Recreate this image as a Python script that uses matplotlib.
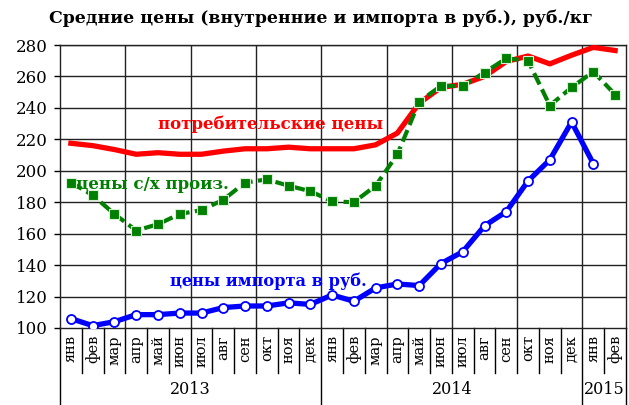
import numpy as np
import matplotlib
matplotlib.use("Agg")
import matplotlib.pyplot as plt

plt.rcParams['font.family'] = ['DejaVu Serif']

# months / years
months = ["янв", "фев", "мар", "апр", "май", "июн", "июл", "авг", "сен", "окт", "ноя", "дек"] * 2 + ["янв", "фев"]
years = ["2013", "2014", "2015"]

# consumer prices
consumer = [217.5, 216, 213.5, 210.5, 211.5, 210.5, 210.5, 212.5, 214, 214, 215, 214,
            214, 214, 216.5, 224, 243, 253, 255, 260, 269.5, 273, 268, 273.5, 278.5, 276.5]
# agricultural producer prices
producer = [192.5, 184.5, 172.5, 162, 166, 172.5, 175, 181.5, 192.5, 194.5, 190.5, 187,
            180.5, 180, 190.5, 210.5, 244, 254, 254, 262.5, 271.5, 270, 241.5, 253, 263, 248.5]
# import prices in rubles (no value for feb 2015)
imports = [106, 101.5, 104, 108.5, 108.5, 109.5, 109.5, 113, 114, 114, 116, 115,
           121, 117, 125.5, 128, 127, 141, 148.5, 165, 174, 193.5, 207, 231, 204.5, np.nan]

x = np.arange(len(months))

fig = plt.figure(figsize=(6.29, 4.05), dpi=100)
ax = fig.add_axes([60 / 629, 1 - 328 / 405, 566 / 629, 283 / 405])

ax.set_xlim(-0.5, len(months) - 0.5)
ax.set_ylim(100, 280)
ax.set_yticks(range(100, 281, 20))
ax.tick_params(axis='y', labelsize=12, length=4, width=1, color='black', pad=5)
ax.set_xticks([])

# grid
for v in range(120, 281, 20):
    ax.axhline(v, color='#222222', lw=1.0, zorder=1)
for k in range(1, 9):
    ax.axvline(3 * k - 0.5, color='#222222', lw=1.0, zorder=1)
for s in ax.spines.values():
    s.set_color('#222222')
    s.set_linewidth(1.0)

ax.plot(x, consumer, color='#ff0000', lw=3.8, zorder=3, solid_joinstyle='round')
ax.plot(x, producer, color='#008000', lw=3.0, ls=(0, (3, 1.3)), marker='s', ms=7.5,
        mfc='#008000', mec='#d8f0d8', mew=0.8, zorder=4)
ax.plot(x, imports, color='#0000ff', lw=3.8, marker='o', ms=6.5, mfc='white',
        mec='#0000ff', mew=1.3, zorder=5)

ax.text(9.15, 229.5, "потребительские цены", color='#ff0000', fontsize=12,
        fontweight='bold', ha='center', va='center', zorder=6)
ax.text(3.73, 191.5, "цены с/х произ.", color='#008000', fontsize=12,
        fontweight='bold', ha='center', va='center', zorder=6)
ax.text(9.05, 129.5, "цены импорта в руб.", color='#0000ff', fontsize=11.7,
        fontweight='bold', ha='center', va='center', zorder=6)

# category axis
tr = ax.get_xaxis_transform()
m_low = -(373 - 328) / 283
y_low = -(405 - 328) / 283
for i, m in enumerate(months):
    ax.text(i, -0.025, m, transform=tr, rotation=90, ha='center', va='top', fontsize=10.5)
for i in range(1, len(months)):
    bottom = y_low if i % 12 == 0 else m_low
    ax.plot([i - 0.5, i - 0.5], [0, bottom], transform=tr, color='black', lw=1.0, clip_on=False)
ax.plot([-0.5, -0.5], [0, y_low], transform=tr, color='black', lw=1.0, clip_on=False)
ax.plot([25.5, 25.5], [0, y_low], transform=tr, color='black', lw=1.0, clip_on=False)
year_pos = [5.5, 17.5, 24.5]
for xp, yr in zip(year_pos, years):
    ax.text(xp, -(389 - 328) / 283, yr, transform=tr, ha='center', va='center', fontsize=11.5)

fig.text(321 / 629, 1 - 18 / 405, "Средние цены (внутренние и импорта в руб.), руб./кг",
         ha='center', va='center', fontsize=12.4, fontweight='bold')

fig.savefig("out.png", dpi=100)
